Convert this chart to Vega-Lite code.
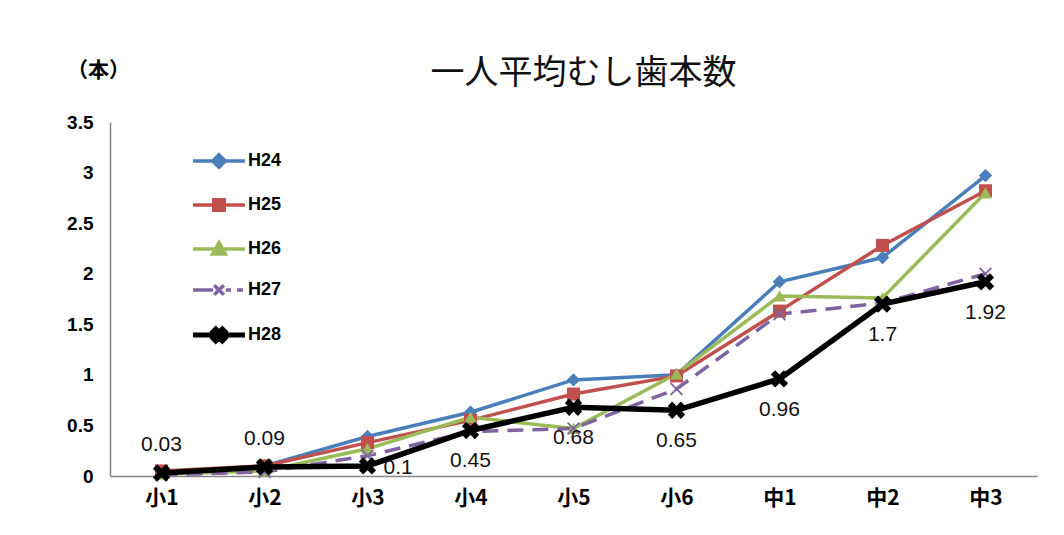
{
  "$schema": "https://vega.github.io/schema/vega-lite/v6.json",
  "autosize": {"type": "none"},
  "width": 927,
  "height": 354,
  "padding": {"left": 110, "top": 122, "right": 27, "bottom": 59},
  "background": "white",
  "config": {
    "view": {"stroke": null},
    "axis": {"grid": false, "domainColor": "#868686", "domainWidth": 1.5, "ticks": false, "labelColor": "#000"}
  },
  "title": {
    "text": "一人平均むし歯本数",
    "font": "Noto Sans CJK JP",
    "fontSize": 34,
    "fontWeight": "normal",
    "color": "#111",
    "anchor": "middle",
    "frame": "group",
    "baseline": "bottom",
    "offset": -66,
    "dx": 10
  },
  "data": {
    "values": [
      {"grade": "小1", "series": "H24", "value": 0.03},
      {"grade": "小2", "series": "H24", "value": 0.1},
      {"grade": "小3", "series": "H24", "value": 0.39},
      {"grade": "小4", "series": "H24", "value": 0.63},
      {"grade": "小5", "series": "H24", "value": 0.95},
      {"grade": "小6", "series": "H24", "value": 1.0},
      {"grade": "中1", "series": "H24", "value": 1.92},
      {"grade": "中2", "series": "H24", "value": 2.16},
      {"grade": "中3", "series": "H24", "value": 2.97},
      {"grade": "小1", "series": "H25", "value": 0.05},
      {"grade": "小2", "series": "H25", "value": 0.1},
      {"grade": "小3", "series": "H25", "value": 0.33},
      {"grade": "小4", "series": "H25", "value": 0.55},
      {"grade": "小5", "series": "H25", "value": 0.81},
      {"grade": "小6", "series": "H25", "value": 0.99},
      {"grade": "中1", "series": "H25", "value": 1.63},
      {"grade": "中2", "series": "H25", "value": 2.28},
      {"grade": "中3", "series": "H25", "value": 2.82},
      {"grade": "小1", "series": "H26", "value": 0.02},
      {"grade": "小2", "series": "H26", "value": 0.05},
      {"grade": "小3", "series": "H26", "value": 0.27},
      {"grade": "小4", "series": "H26", "value": 0.58},
      {"grade": "小5", "series": "H26", "value": 0.47},
      {"grade": "小6", "series": "H26", "value": 1.01},
      {"grade": "中1", "series": "H26", "value": 1.78},
      {"grade": "中2", "series": "H26", "value": 1.76},
      {"grade": "中3", "series": "H26", "value": 2.8},
      {"grade": "小1", "series": "H27", "value": 0.01},
      {"grade": "小2", "series": "H27", "value": 0.04},
      {"grade": "小3", "series": "H27", "value": 0.2},
      {"grade": "小4", "series": "H27", "value": 0.44},
      {"grade": "小5", "series": "H27", "value": 0.47},
      {"grade": "小6", "series": "H27", "value": 0.86},
      {"grade": "中1", "series": "H27", "value": 1.6},
      {"grade": "中2", "series": "H27", "value": 1.71},
      {"grade": "中3", "series": "H27", "value": 2.0},
      {"grade": "小1", "series": "H28", "value": 0.03},
      {"grade": "小2", "series": "H28", "value": 0.09},
      {"grade": "小3", "series": "H28", "value": 0.1},
      {"grade": "小4", "series": "H28", "value": 0.45},
      {"grade": "小5", "series": "H28", "value": 0.68},
      {"grade": "小6", "series": "H28", "value": 0.65},
      {"grade": "中1", "series": "H28", "value": 0.96},
      {"grade": "中2", "series": "H28", "value": 1.7},
      {"grade": "中3", "series": "H28", "value": 1.92}
    ]
  },
  "encoding": {
    "x": {
      "field": "grade", "type": "ordinal",
      "sort": ["小1", "小2", "小3", "小4", "小5", "小6", "中1", "中2", "中3"],
      "scale": {"type": "point", "padding": 0.5},
      "axis": {"title": null, "labelAngle": 0, "labelFont": "Noto Sans CJK JP", "labelFontSize": 21, "labelFontWeight": "bold", "labelPadding": 11}
    },
    "y": {
      "field": "value", "type": "quantitative",
      "scale": {"domain": [0, 3.5], "nice": false, "zero": true},
      "axis": {
        "values": [0, 0.5, 1, 1.5, 2, 2.5, 3, 3.5], "format": "~g",
        "labelFont": "Liberation Sans", "labelFontSize": 19, "labelFontWeight": "bold", "labelPadding": 17,
        "title": "（本）", "titleAngle": 0, "titleAlign": "center", "titleBaseline": "middle",
        "titleX": -12, "titleY": -52, "titleFont": "Noto Sans CJK JP", "titleFontSize": 21, "titleFontWeight": "bold", "titleColor": "#000"
      }
    },
    "color": {
      "field": "series", "type": "nominal",
      "scale": {"domain": ["H24", "H25", "H26", "H27", "H28"], "range": ["#4A7EBB", "#C0504D", "#9BBB59", "#8064A2", "#000000"]},
      "legend": {
        "orient": "none", "legendX": 100, "legendY": 30, "title": null, "padding": 0,
        "symbolSize": 900, "symbolStrokeWidth": 3, "rowPadding": 17, "labelOffset": 20,
        "labelFont": "Liberation Sans", "labelFontSize": 18, "labelFontWeight": "bold", "labelColor": "#000",
        "encode": {
          "symbols": {
            "update": {
              "shape": {"signal": "datum.value === 'H24' ? 'M-1.73,0H1.73M0,-0.42L0.42,0L0,0.42L-0.42,0Z' : datum.value === 'H25' ? 'M-1.73,0H1.73M-0.35,-0.35H0.35V0.35H-0.35Z' : datum.value === 'H26' ? 'M-1.73,0H1.73M0,-0.42L0.42,0.33H-0.42Z' : datum.value === 'H27' ? 'M-1.73,0H-0.4M0.45,0H0.8M1.2,0H1.6M-0.32,-0.32L0.32,0.32M0.32,-0.32L-0.32,0.32' : 'M-1.73,0H1.73M-0.4,-0.22L-0.22,-0.4L0,-0.18L0.22,-0.4L0.4,-0.22L0.18,0L0.4,0.22L0.22,0.4L0,0.18L-0.22,0.4L-0.4,0.22L-0.18,0Z'"},
              "strokeWidth": {"signal": "datum.value === 'H28' ? 5 : 3.5"},
              "opacity": {"value": 1}
            }
          }
        }
      }
    }
  },
  "layer": [
    {
      "transform": [{"filter": "datum.series === 'H24' || datum.series === 'H25' || datum.series === 'H26'"}],
      "mark": {"type": "line", "strokeWidth": 3.5}
    },
    {
      "transform": [{"filter": "datum.series === 'H27'"}],
      "mark": {"type": "line", "strokeWidth": 3.5, "strokeDash": [16, 9]}
    },
    {
      "transform": [{"filter": "datum.series === 'H24'"}],
      "mark": {"type": "point", "filled": true, "size": 180, "opacity": 1, "shape": "diamond"}
    },
    {
      "transform": [{"filter": "datum.series === 'H25'"}],
      "mark": {"type": "point", "filled": true, "size": 170, "opacity": 1, "shape": "square"}
    },
    {
      "transform": [{"filter": "datum.series === 'H26'"}],
      "mark": {"type": "point", "filled": true, "size": 170, "opacity": 1, "shape": "triangle-up"}
    },
    {
      "transform": [{"filter": "datum.series === 'H27'"}],
      "mark": {"type": "point", "filled": true, "size": 170, "opacity": 1, "shape": "M-1,-0.8L-0.8,-1L0,-0.2L0.8,-1L1,-0.8L0.2,0L1,0.8L0.8,1L0,0.2L-0.8,1L-1,0.8L-0.2,0Z"}
    },
    {
      "transform": [{"filter": "datum.series === 'H28'"}],
      "mark": {"type": "line", "strokeWidth": 5.5}
    },
    {
      "transform": [{"filter": "datum.series === 'H28'"}],
      "mark": {"type": "point", "filled": true, "size": 300, "opacity": 1, "shape": "M-1,-0.5L-0.5,-1L0,-0.5L0.5,-1L1,-0.5L0.5,0L1,0.5L0.5,1L0,0.5L-0.5,1L-1,0.5L-0.5,0Z"}
    },
    {
      "transform": [{"filter": "datum.series === 'H28' && (datum.grade === '小1' || datum.grade === '小2')"}],
      "mark": {"type": "text", "dy": -28, "font": "Liberation Sans", "fontSize": 21},
      "encoding": {"text": {"field": "value", "type": "quantitative"}, "color": {"value": "#111"}}
    },
    {
      "transform": [{"filter": "datum.series === 'H28' && datum.grade === '小3'"}],
      "mark": {"type": "text", "dx": 16, "dy": 2, "align": "left", "font": "Liberation Sans", "fontSize": 21},
      "encoding": {"text": {"field": "value", "type": "quantitative"}, "color": {"value": "#111"}}
    },
    {
      "transform": [{"filter": "datum.series === 'H28' && datum.grade !== '小1' && datum.grade !== '小2' && datum.grade !== '小3'"}],
      "mark": {"type": "text", "dy": 31, "font": "Liberation Sans", "fontSize": 21},
      "encoding": {"text": {"field": "value", "type": "quantitative"}, "color": {"value": "#111"}}
    }
  ]
}
